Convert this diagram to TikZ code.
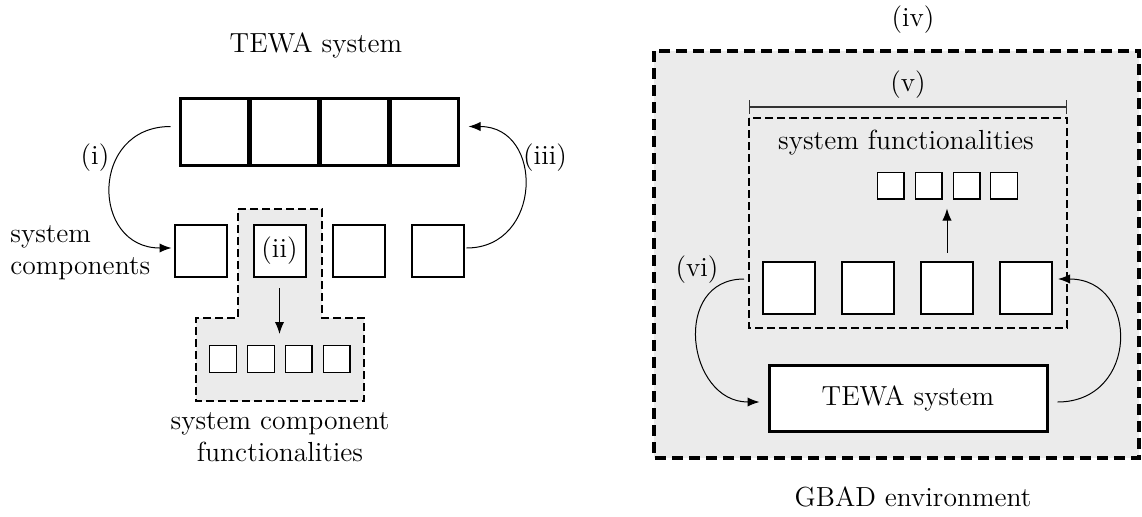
\documentclass[tikz,border=0pt]{standalone}
\usepackage{fontspec}
\usetikzlibrary{arrows.meta}
\definecolor{bggray}{HTML}{EBEBEB}
\tikzset{
  lbl/.style={inner sep=0pt, font=\fontsize{13.8pt}{16pt}\selectfont},
  bigbox/.style={draw, line width=1.5pt, fill=white, minimum width=34pt, minimum height=33.5pt, inner sep=0pt},
  midbox/.style={draw, line width=1pt, fill=white, minimum size=26pt, inner sep=0pt},
  smallbox/.style={draw, line width=0.7pt, fill=white, minimum size=13.3pt, inner sep=0pt},
  conn/.style={line width=0.5pt, -{Latex[length=6pt,width=4.6pt]}},
  thindash/.style={line width=0.8pt, dash pattern=on 4pt off 2pt},
  thickdash/.style={line width=2pt, dash pattern=on 5.5pt off 3pt},
}
\begin{document}
\begin{tikzpicture}[x=0.5pt,y=-0.5pt]
\useasboundingbox (0,0) rectangle (1142,516);
% ---------- left part ----------
\node[lbl] (lt) at (316,45) {TEWA system};
\node[bigbox] (t1) at (214,131.5) {};
\node[bigbox] (t2) at (284,131.5) {};
\node[bigbox] (t3) at (354,131.5) {};
\node[bigbox] (t4) at (424,131.5) {};
\fill[bggray] (238,209) -- (322,209) -- (322,318) -- (364,318) -- (364,401) -- (196,401) -- (196,318) -- (238,318) -- cycle;
\draw[thindash] (238,209) -- (322,209) -- (322,318) -- (364,318) -- (364,401) -- (196,401) -- (196,318) -- (238,318) -- cycle;
\node[midbox] (c1) at (200.5,251) {};
\node[midbox,lbl,minimum size=26pt] (c2) at (279.5,251) {(ii)};
\node[midbox] (c3) at (358.5,251) {};
\node[midbox] (c4) at (437.5,251) {};
\node[smallbox] (s1) at (223,359) {};
\node[smallbox] (s2) at (261,359) {};
\node[smallbox] (s3) at (298.5,359) {};
\node[smallbox] (s4) at (336.5,359) {};
\node[lbl, align=center] (scf) at (280,437) {system component\\functionalities};
\node[lbl, align=left, anchor=west] (sc) at (10,253) {system\\components};
\node[lbl] (li) at (95,158) {(i)};
\node[lbl] (liii) at (545,158) {(iii)};
\coordinate (ia) at ([xshift=-4pt,yshift=2.5pt]t1.west);
\coordinate (ib) at ([xshift=-1pt,yshift=1.5pt]c1.west);
\draw[conn] (ia) to[out=180,in=180,looseness=1.7] (ib);
\coordinate (iiia) at ([xshift=1pt,yshift=1.5pt]c4.east);
\coordinate (iiib) at ([xshift=4.5pt,yshift=2.5pt]t4.east);
\draw[conn] (iiia) to[out=0,in=0,looseness=1.6] (iiib);
\draw[conn, shorten <=5pt, shorten >=5.5pt] (c2.south) -- (c2.south |- s2.north);
% ---------- right part ----------
\fill[bggray] (654,51) rectangle (1139,458);
\draw[thickdash] (654,51) rectangle (1139,458);
\node[lbl] (liv) at (913,20) {(iv)};
\node[lbl] (gbad) at (913,497) {GBAD environment};
\draw[thindash] (749,118) rectangle (1067,328);
\coordinate (va) at (749,107);
\coordinate (vb) at (1067,107);
\draw[line width=0.6pt, {Bar[width=7pt]}-{Bar[width=7pt]}, draw=black!80] (va) -- (vb);
\node[lbl] (lv) at (908,85) {(v)};
\node[lbl] (sf) at (906,143) {system functionalities};
\node[smallbox] (r1) at (890.5,185.5) {};
\node[smallbox] (r2) at (928.5,185.5) {};
\node[smallbox] (r3) at (966.5,185.5) {};
\node[smallbox] (r4) at (1004,185.5) {};
\node[midbox] (b1) at (789,287.5) {};
\node[midbox] (b2) at (868,287.5) {};
\node[midbox] (b3) at (947,287.5) {};
\node[midbox] (b4) at (1026,287.5) {};
\draw[conn, shorten <=4pt, shorten >=4.5pt] (b3.north) -- (b3.north |- r3.south);
\node[bigbox, lbl, minimum width=139pt, minimum height=33pt] (tw) at (908,398) {TEWA system};
\node[lbl] (lvi) at (697,270) {(vi)};
\coordinate (via) at (744,279);
\coordinate (vib) at ([xshift=-4pt,yshift=-2pt]tw.west);
\draw[conn] (via) to[out=180,in=180,looseness=1.5] (vib);
\coordinate (wa) at ([xshift=4.5pt,yshift=-2pt]tw.east);
\coordinate (wb) at ([xshift=2.5pt,yshift=4.25pt]b4.east);
\draw[conn] (wa) to[out=0,in=0,looseness=1.7] (wb);
\end{tikzpicture}
\end{document}
